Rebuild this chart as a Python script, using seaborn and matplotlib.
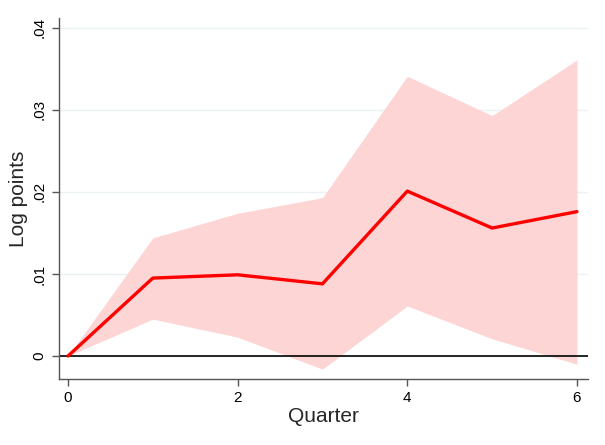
import matplotlib
matplotlib.use("Agg")
import matplotlib.pyplot as plt
import seaborn as sns
import pandas as pd

quarter = [0, 1, 2, 3, 4, 5, 6]
estimate = [0.0, 0.0095, 0.0099, 0.0088, 0.0201, 0.0156, 0.0176]
upper = [0.0, 0.0144, 0.0174, 0.0193, 0.0341, 0.0293, 0.0361]
lower = [0.0, 0.0045, 0.0023, -0.0016, 0.0061, 0.0021, -0.0010]
xticks = [0, 2, 4, 6]
yticks = [0, 0.01, 0.02, 0.03, 0.04]
ytick_labels = ["0", ".01", ".02", ".03", ".04"]

df = pd.DataFrame({"Quarter": quarter, "est": estimate, "lo": lower, "hi": upper})

sns.set_theme(style="white")
plt.rcParams["font.family"] = ["Liberation Sans", "DejaVu Sans"]

fig = plt.figure(figsize=(6.05, 4.45), dpi=100)
ax = fig.add_axes([59 / 605, 1 - 379 / 445, (588 - 59) / 605, (379 - 18) / 445])

for yv in yticks:
    ax.axhline(yv, color="#eaf2f3", lw=1.0, zorder=0)

ax.fill_between(df["Quarter"], df["lo"], df["hi"], color="#fdd5d5", lw=0, zorder=1)
ax.axhline(0, color="black", lw=1.2, zorder=2)
sns.lineplot(data=df, x="Quarter", y="est", ax=ax, color="#ff0000", lw=2.4, zorder=3)

ax.set_xlim(-0.106, 6.13)
ax.set_ylim(-0.0028, 0.0412)
ax.set_xticks(xticks)
ax.set_xticklabels([str(t) for t in xticks])
ax.set_yticks(yticks)
ax.set_yticklabels(ytick_labels, rotation=90, va="center")

for s in ["top", "right"]:
    ax.spines[s].set_visible(False)
for s in ["left", "bottom"]:
    ax.spines[s].set_color("#555555")
    ax.spines[s].set_linewidth(1.0)

ax.tick_params(axis="both", which="both", direction="out", length=5, width=1,
               color="#555555", labelsize=11, labelcolor="black", pad=4)
ax.tick_params(axis="x", bottom=True)
ax.tick_params(axis="y", left=True)

ax.set_xlabel("Quarter", fontsize=15, labelpad=1)
ax.set_ylabel("Log points", fontsize=15, labelpad=3)

fig.savefig("out.png", dpi=100, facecolor="white")
